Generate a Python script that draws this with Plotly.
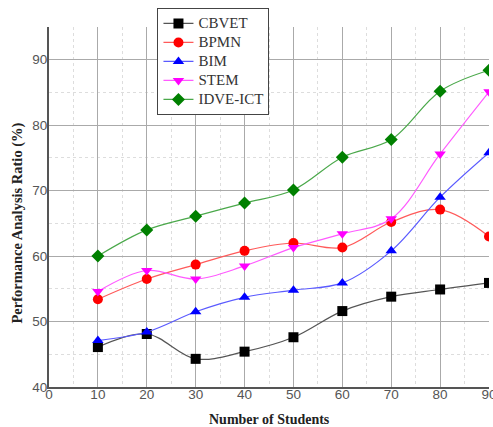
import plotly.graph_objects as go

students = [10, 20, 30, 40, 50, 60, 70, 80, 90]
cbvet = [46.1, 48.1, 44.3, 45.4, 47.6, 51.6, 53.8, 54.9, 55.9]
bpmn = [53.4, 56.5, 58.7, 60.8, 62.0, 61.3, 65.2, 67.1, 63.0]
bim = [47.1, 48.4, 51.5, 53.7, 54.8, 55.9, 60.8, 69.0, 75.8]
stem = [54.6, 57.8, 56.5, 58.5, 61.3, 63.4, 65.7, 75.6, 85.1]
idve = [60.0, 64.0, 66.1, 68.1, 70.1, 75.1, 77.8, 85.2, 88.4]
x_ticks = [0, 10, 20, 30, 40, 50, 60, 70, 80, 90]
y_ticks = [40, 50, 60, 70, 80, 90]

series = [
    ("CBVET", cbvet, "#000000", "#555555", "square"),
    ("BPMN", bpmn, "#ff0000", "#ff5a5a", "circle"),
    ("BIM", bim, "#0000ff", "#5a5aff", "triangle-up"),
    ("STEM", stem, "#ff00ff", "#ff5aff", "triangle-down"),
    ("IDVE-ICT", idve, "#008000", "#4aa84a", "diamond"),
]

fig = go.Figure()
for name, vals, mc, lc, sym in series:
    fig.add_trace(go.Scatter(
        x=students, y=vals, name=f"<span style='font-size:15px'>{name}</span>",
        mode="lines+markers",
        line=dict(color=lc, width=1.2, shape="spline", smoothing=1),
        marker=dict(color=mc, symbol=sym, size=10),
    ))

tickfont = dict(family="Liberation Sans, Arial", size=13.5, color="#555555")
serif = "Liberation Serif, Times New Roman"

fig.update_layout(
    width=493, height=427,
    margin=dict(l=49, r=4, t=27, b=40, autoexpand=False),
    paper_bgcolor="white", plot_bgcolor="white",
    showlegend=True,
    legend=dict(
        x=0.2465, y=1.053, xanchor="left", yanchor="top",
        bgcolor="white", bordercolor="#444444", borderwidth=1,
        font=dict(family=serif, size=12, color="#333333"),
        itemwidth=30, tracegroupgap=0,
    ),
    xaxis=dict(
        range=[0, 90], tickmode="array", tickvals=x_ticks,
        showgrid=True, gridcolor="#aaaaaa", gridwidth=1,
        minor=dict(dtick=5, showgrid=True, gridcolor="#dddddd", griddash="dot", gridwidth=1),
        showline=True, linecolor="#555555", linewidth=2,
        zeroline=False, ticks="", ticklen=0, tickfont=tickfont, automargin=False,
        ticklabeloverflow="allow", ticklabelstandoff=-6,
    ),
    yaxis=dict(
        range=[40, 95], tickmode="array", tickvals=y_ticks,
        showgrid=True, gridcolor="#aaaaaa", gridwidth=1,
        minor=dict(tickvals=[45, 55, 65, 75, 85], showgrid=True, gridcolor="#dddddd", griddash="dot", gridwidth=1),
        showline=True, linecolor="#555555", linewidth=2,
        zeroline=False, ticks="", ticklen=0, tickfont=tickfont, automargin=False,
        ticklabeloverflow="allow", ticklabelstandoff=-3,
    ),
    annotations=[
        dict(text="<b>Number of Students</b>", xref="paper", yref="paper",
             x=0.5, y=-0.09, xanchor="center", yanchor="middle",
             showarrow=False, font=dict(family=serif, size=14, color="#222222")),
        dict(text="<b>Performance Analysis Ratio (%)</b>", xref="paper", yref="paper",
             x=-0.072, y=0.455, xanchor="center", yanchor="middle", textangle=-90,
             showarrow=False, font=dict(family=serif, size=14.5, color="#222222")),
    ],
)

fig.write_html(
    "out.html",
    config={"displayModeBar": False},
    post_script="document.body.style.margin='0';document.body.style.overflow='hidden';",
)
